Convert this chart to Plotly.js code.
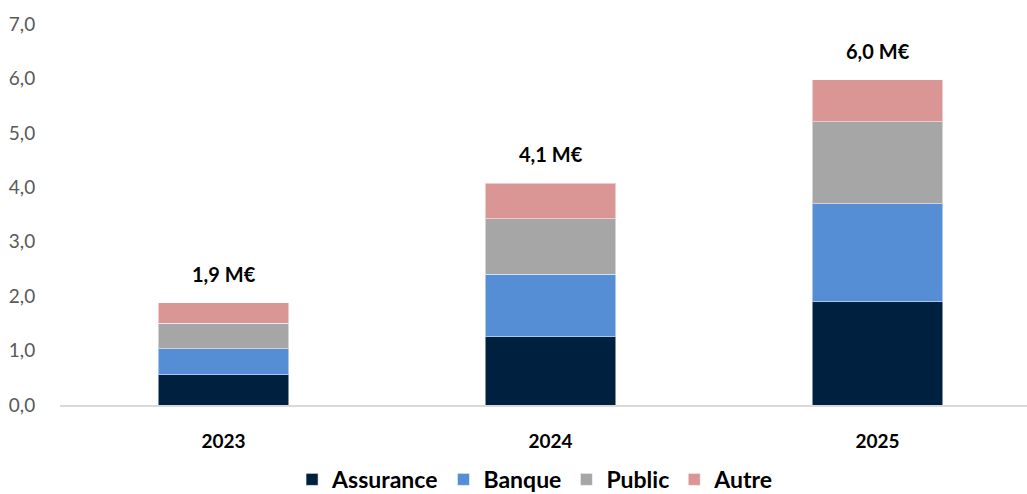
<!DOCTYPE html>
<html>
<head>
<meta charset="utf-8">
<script src="https://cdn.plot.ly/plotly-3.0.1.min.js"></script>
<style>html,body{margin:0;padding:0;background:#fff;overflow:hidden}#chart{width:1027px;height:494px}</style>
</head>
<body>
<div id="chart"></div>
<script>
const years = ["2023", "2024", "2025"];
const assurance = [0.56, 1.25, 1.90];
const banque = [0.47, 1.15, 1.80];
const publicSector = [0.47, 1.02, 1.50];
const autre = [0.38, 0.65, 0.78];
const seriesNames = ["Assurance", "Banque", "Public", "Autre"];
const seriesColors = ["#00203f", "#558ed5", "#a6a6a6", "#d99694"];

const FONT = "Lato, 'Open Sans', sans-serif";
const allSeries = [assurance, banque, publicSector, autre];
const traces = allSeries.map((vals, i) => ({
  type: "bar",
  name: seriesNames[i],
  x: years,
  y: vals,
  width: 0.4,
  marker: {color: seriesColors[i], line: {color: "rgba(255,255,255,0.5)", width: 1}},
  hoverinfo: "skip"
}));

const totals = years.map((_, j) => allSeries.reduce((s, arr) => s + arr[j], 0));
const annotations = years.map((yr, j) => ({
  x: j, y: totals[j], xref: "x", yref: "y",
  text: "<b>" + totals[j].toFixed(1).replace(".", ",") + " M€</b>",
  showarrow: false, yanchor: "middle", yshift: 29,
  font: {family: FONT, size: 20, color: "#000000"}
}));

const layout = {
  width: 1027, height: 494,
  margin: {l: 60, r: 0, t: 24, b: 89, pad: 0},
  paper_bgcolor: "#ffffff", plot_bgcolor: "#ffffff",
  separators: ", ",
  barmode: "stack",
  font: {family: FONT, size: 19, color: "#595959"},
  xaxis: {
    type: "category",
    range: [-0.5, 2.457],
    showline: true, linecolor: "#d9d9d9", linewidth: 2,
    ticks: "outside", ticklen: 18, tickcolor: "rgba(0,0,0,0)",
    tickfont: {family: FONT, size: 19, color: "#000000", weight: "bold"},
    showgrid: false, zeroline: false, fixedrange: true
  },
  yaxis: {
    range: [0, 7], dtick: 1, tick0: 0, tickformat: ".1f",
    showgrid: false, zeroline: false, showline: false,
    ticks: "outside", ticklen: 20, tickcolor: "rgba(0,0,0,0)",
    tickfont: {family: FONT, size: 19, color: "#595959"},
    fixedrange: true
  },
  showlegend: true,
  legend: {
    orientation: "h", xref: "container", x: 0.521, xanchor: "center",
    yref: "container", y: 0.073, yanchor: "top",
    font: {family: FONT, size: 23, color: "#000000", weight: "bold"},
    traceorder: "normal", itemwidth: 30
  },
  annotations: annotations
};

Plotly.newPlot("chart", traces, layout, {displayModeBar: false, staticPlot: true});
</script>
</body>
</html>
